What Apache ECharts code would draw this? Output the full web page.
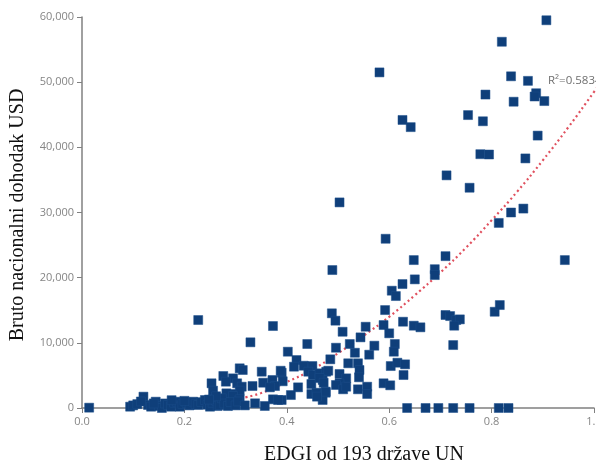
<!DOCTYPE html>
<html>
<head>
<meta charset="utf-8">
<script src="https://cdn.jsdelivr.net/npm/echarts@6/dist/echarts.min.js"></script>
<style>
html,body{margin:0;padding:0;background:#fff;}
#c{width:596px;height:468px;}
</style>
</head>
<body>
<div id="c"></div>
<script>
// EDGI score and GNI per capita (USD)
const edgi = [
0.907,0.820,0.838,0.871,0.788,0.843,0.887,0.884,0.903,0.754,0.783,0.890,0.778,0.795,0.866,0.712,0.757,0.838,0.862,0.814,0.710,0.943,
0.581,0.626,0.642,0.503,0.593,0.489,0.648,0.689,0.689,0.650,0.626,0.605,0.613,
0.592,0.488,0.495,0.627,0.710,0.719,0.731,0.738,0.727,0.725,0.648,0.661,0.589,0.600,0.554,0.509,0.544,0.440,0.523,0.611,0.496,0.571,0.533,0.561,0.402,0.485,0.609,
0.603,0.616,0.631,0.628,0.520,0.419,0.414,0.433,0.450,0.442,0.451,0.464,0.477,0.539,0.542,0.541,0.503,0.516,0.503,0.496,0.510,0.470,0.448,0.422,0.448,0.458,0.476,0.470,0.408,0.390,0.390,0.539,0.557,0.557,0.589,0.602,0.806,0.816,
0.635,0.671,0.696,0.725,0.757,0.814,0.833,
0.373,0.329,0.308,0.314,0.295,0.303,0.312,0.308,0.292,0.289,0.298,0.351,0.354,0.372,0.388,0.392,0.377,0.367,0.333,0.373,0.383,0.338,0.357,0.481,0.464,0.472,0.476,0.459,0.516,
0.227,0.276,0.253,0.256,0.282,0.281,0.295,0.308,0.269,
0.014,0.094,0.100,0.108,0.120,0.129,0.135,0.144,0.150,0.156,0.162,0.168,0.174,0.180,0.185,0.191,0.196,0.204,0.210,0.217,0.222,0.227,0.233,0.240,0.245,0.250,0.255,0.262,0.265,0.269,0.273,0.278,0.285,0.290,0.300,0.305,0.318,0.262,0.248,0.200,0.175,0.140,0.115
];
const gni = [
59500,56200,50900,50200,48100,47000,48300,47800,47100,44950,44000,41800,38950,38900,38300,35700,33800,30000,30600,28400,23300,22700,
51500,44200,43100,31550,25970,21170,22700,21300,20400,19740,19020,18000,17180,
15030,14530,13400,13240,14270,14110,13500,13600,12630,9660,12630,12380,12730,11460,12470,11700,10840,9820,9820,9820,9250,9560,8480,8180,8640,7470,8640,
6440,6950,6700,5060,6860,7360,6340,6490,6440,5570,5060,5320,5570,6860,5830,4710,5220,4550,3790,3530,2870,4300,3680,3170,2150,2350,2350,1230,1990,5420,1230,2870,3270,2150,3790,3480,14770,15800,
0,0,0,0,0,0,0,
12580,10080,6090,5830,4550,3790,3270,2660,2150,1230,720,5570,3880,4300,5720,4100,3370,3170,3370,1330,1230,720,310,5720,4600,3880,2510,1740,3270,
13500,4910,3790,2660,2250,4040,1840,1330,1230,
50,200,400,600,1740,460,200,970,300,0,700,460,200,800,970,200,600,810,400,970,600,460,900,1230,500,200,800,1100,300,460,1500,700,300,900,400,1000,400,1800,1300,1100,1200,700,1000
];
// trend line samples
const trendX = [0.31,0.35,0.40,0.45,0.50,0.55,0.60,0.65,0.70,0.75,0.80,0.85,0.90,0.95,1.00,1.01];
const trendY = [1500,2300,4000,5900,8400,11100,14000,17300,20800,24600,28800,33200,38000,43100,48500,49600];
const xTicks = ['0.0','0.2','0.4','0.6','0.8','1.0'];
const yTicks = ['0','10,000','20,000','30,000','40,000','50,000','60,000'];
const rLabel = 'R²=0.5834';
const xTitle = 'EDGI od 193 države UN';
const yTitle = 'Bruto nacionalni dohodak USD';

const points = edgi.map((x,i)=>[x,gni[i]]);
const trend = trendX.map((x,i)=>[x,trendY[i]]);

const chart = echarts.init(document.getElementById('c'), null, {renderer:'canvas'});
chart.setOption({
  animation:false,
  backgroundColor:'#ffffff',
  grid:{left:82,right:2,top:17,bottom:60,containLabel:false,outerBoundsMode:'none'},
  xAxis:{
    type:'value',min:0,max:1,interval:0.2,
    axisLine:{show:true,lineStyle:{color:'#808080',width:1.5}},
    axisTick:{show:true,length:5,lineStyle:{color:'#808080'}},
    splitLine:{show:false},
    axisLabel:{color:'#858585',fontSize:11,fontFamily:'Open Sans',margin:8,
      formatter:(v)=>xTicks[Math.round(v/0.2)]}
  },
  yAxis:{
    type:'value',min:0,max:60000,interval:10000,
    axisLine:{show:true,lineStyle:{color:'#808080',width:1.5}},
    axisTick:{show:true,length:5,lineStyle:{color:'#808080'}},
    splitLine:{show:false},
    axisLabel:{color:'#858585',fontSize:11,fontFamily:'Open Sans',margin:8,
      formatter:(v)=>yTicks[Math.round(v/10000)]}
  },
  series:[
    {type:'line',data:trend,smooth:true,showSymbol:false,z:1,
     lineStyle:{color:'#e0505e',width:2.2,type:[2,3]}},
    {type:'scatter',data:points,symbol:'rect',symbolSize:9,z:3,
     itemStyle:{color:'#0f3f7a',borderColor:'#1d4f8a',borderWidth:0.5,opacity:1}}
  ],
  graphic:[
    {type:'text',left:548,top:75,style:{text:rLabel,fill:'#6e6e6e',font:'11.5px "Open Sans"'}},
    {type:'text',x:364,y:455,style:{text:xTitle,fill:'#111',font:'20px "Liberation Serif"',textAlign:'center',textVerticalAlign:'middle'}},
    {type:'text',x:18,y:215,rotation:Math.PI/2,style:{text:yTitle,fill:'#111',font:'20px "Liberation Serif"',textAlign:'center',textVerticalAlign:'middle'}}
  ]
});
</script>
</body>
</html>
